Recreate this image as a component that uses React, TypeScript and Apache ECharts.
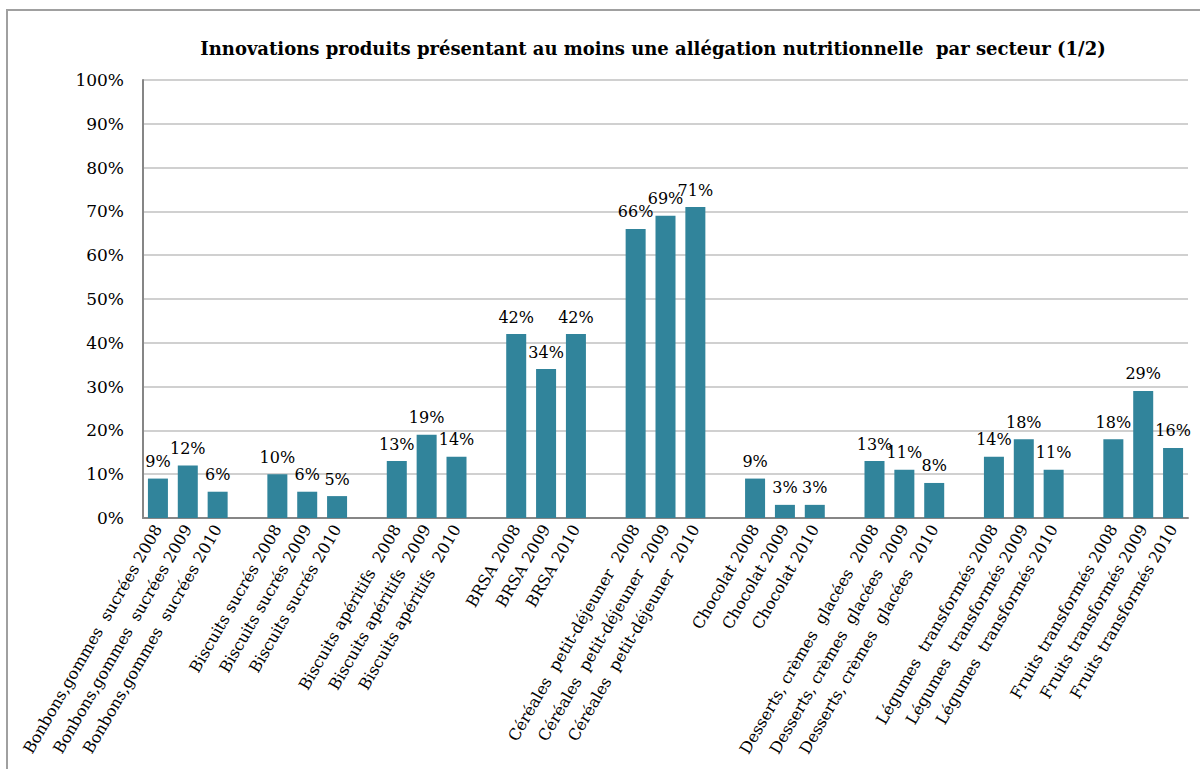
import React, { useEffect, useRef } from "react";
import * as echarts from "echarts";

const titleText =
  "Innovations produits présentant au moins une allégation nutritionnelle  par secteur (1/2)";

const categories: string[] = [
  "Bonbons,gommes  sucrées 2008",
  "Bonbons,gommes  sucrées 2009",
  "Bonbons,gommes  sucrées 2010",
  "Biscuits sucrés 2008",
  "Biscuits sucrés 2009",
  "Biscuits sucrés 2010",
  "Biscuits apéritifs  2008",
  "Biscuits apéritifs  2009",
  "Biscuits apéritifs  2010",
  "BRSA 2008",
  "BRSA 2009",
  "BRSA 2010",
  "Céréales  petit-déjeuner  2008",
  "Céréales  petit-déjeuner  2009",
  "Céréales  petit-déjeuner  2010",
  "Chocolat 2008",
  "Chocolat 2009",
  "Chocolat 2010",
  "Desserts, crèmes  glacées  2008",
  "Desserts, crèmes  glacées  2009",
  "Desserts, crèmes  glacées  2010",
  "Légumes  transformés 2008",
  "Légumes  transformés 2009",
  "Légumes  transformés 2010",
  "Fruits transformés 2008",
  "Fruits transformés 2009",
  "Fruits transformés 2010",
];

const values: number[] = [
  9, 12, 6,
  10, 6, 5,
  13, 19, 14,
  42, 34, 42,
  66, 69, 71,
  9, 3, 3,
  13, 11, 8,
  14, 18, 11,
  18, 29, 16,
];

const yTicks = [0, 10, 20, 30, 40, 50, 60, 70, 80, 90, 100];

const GROUP = 3;
const GAP_PREFIX = "__gap";

export default function App() {
  const ref = useRef<HTMLDivElement>(null);

  useEffect(() => {
    if (!ref.current) return;
    const chart = echarts.init(ref.current, undefined, { renderer: "svg" });

    // build axis with an empty slot between sector groups
    const axisData: string[] = [];
    const seriesData: (number | string)[] = [];
    categories.forEach((c, i) => {
      if (i > 0 && i % GROUP === 0) {
        axisData.push(GAP_PREFIX + i);
        seriesData.push("-");
      }
      axisData.push(c);
      seriesData.push(values[i]);
    });

    const serif = "DejaVu Serif";

    chart.setOption({
      animation: false,
      backgroundColor: "#ffffff",
      title: {
        text: titleText,
        left: 648,
        top: 34,
        textAlign: "center",
        textStyle: {
          fontFamily: serif,
          fontWeight: "bold",
          fontSize: 18,
          color: "#000000",
        },
      },
      graphic: [
        {
          type: "rect",
          shape: { x: 7, y: 10, width: 1400, height: 1000 },
          style: { fill: "none", stroke: "#a0a0a0", lineWidth: 2 },
          silent: true,
        },
      ],
      grid: { left: 143, right: 12, top: 80, bottom: 251 },
      xAxis: {
        type: "category",
        data: axisData,
        axisLine: { show: true, lineStyle: { color: "#868686", width: 2 } },
        axisTick: { show: false },
        axisLabel: {
          interval: 0,
          rotate: 60,
          margin: 8,
          fontFamily: serif,
          fontSize: 16,
          color: "#000000",
          formatter: (v: string) => (v.startsWith(GAP_PREFIX) ? "" : v),
        },
      },
      yAxis: {
        type: "value",
        min: yTicks[0],
        max: yTicks[yTicks.length - 1],
        interval: 10,
        axisLine: { show: true, lineStyle: { color: "#868686", width: 2 } },
        axisTick: { show: false },
        splitLine: { show: true, lineStyle: { color: "#d0d0d0", width: 2 } },
        axisLabel: {
          margin: 19,
          fontFamily: serif,
          fontSize: 17,
          color: "#000000",
          formatter: (v: number) => `${v}%`,
        },
      },
      series: [
        {
          type: "bar",
          data: seriesData,
          barWidth: 20,
          itemStyle: { color: "#31849B" },
          label: {
            show: true,
            position: "top",
            distance: 9,
            fontFamily: serif,
            fontSize: 16,
            color: "#000000",
            formatter: (p: any) => `${p.value}%`,
          },
        },
      ],
    });

    return () => chart.dispose();
  }, []);

  return (
    <div
      ref={ref}
      style={{ position: "fixed", left: 0, top: 0, width: 1200, height: 769 }}
    />
  );
}
